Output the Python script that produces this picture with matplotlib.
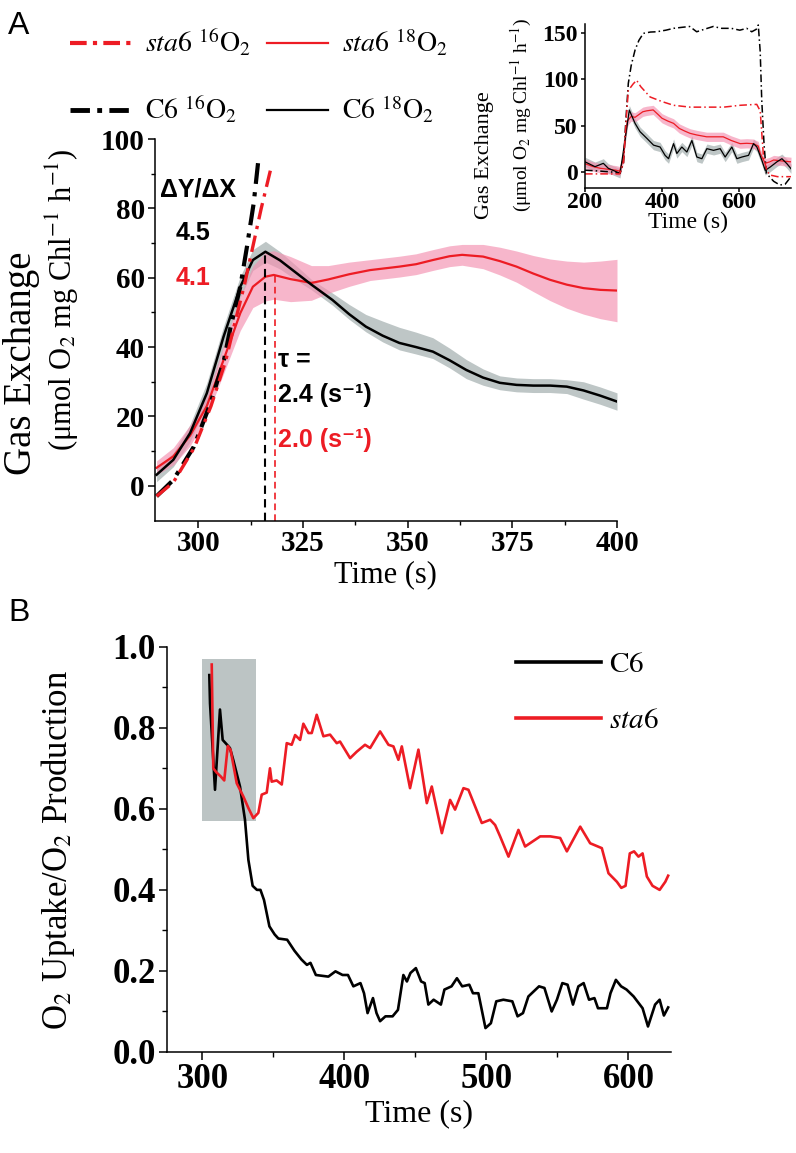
import matplotlib
matplotlib.use("Agg")
import matplotlib.pyplot as plt
import numpy as np
from matplotlib.lines import Line2D
from matplotlib.ticker import MultipleLocator, FormatStrFormatter

# ---- panel A, main plot (290-400 s) ----
c6_18_t = [290, 294, 298, 302, 306, 310, 313, 316, 319.5, 324, 327, 332, 336, 340, 344, 348, 352, 356, 360, 364, 368, 372,
           376, 380, 384, 388, 392, 396, 400]
c6_18_y = [3.2, 7.5, 15.2, 26.7, 43, 57.4, 65.1, 67.5, 65, 60.8, 58, 53.6, 49.5, 45.9, 43.3, 41.2, 40, 38.7, 36.2, 33.4, 31.2,
           29.7, 29.1, 28.9, 28.9, 28.6, 27.5, 26, 24.3]
c6_18_lo = [2, 2, 2.5, 3, 3, 3, 3, 3, 2.5, 2, 1.5, 1.5, 1.5, 1.5, 1.8, 2, 2, 2, 2.2, 2.5, 2.2, 2, 2, 2, 2, 2, 2.5, 2.5, 2.5]
c6_18_hi = [2, 2, 2.5, 3, 3, 3, 3, 3, 2.5, 2, 1.5, 2, 2.8, 3.5, 4.2, 4.5, 4.3, 4, 3.5, 3, 2.5, 2, 2, 2, 2, 2, 2.5, 2.5, 2.5]

sta6_18_t = [290, 294, 298, 302, 306, 310, 313, 316, 318, 322, 327, 331, 336, 341, 348, 352, 356, 360, 363, 368, 372, 376,
             380, 384, 388, 392, 396, 400]
sta6_18_y = [5.2, 8.5, 14.5, 23, 36.3, 49.8, 57.4, 60.3, 60.8, 59.6, 58.5, 59.5, 61, 62.2, 63.2, 63.9, 65.1, 66.2, 66.6,
             66.1, 64.8, 63.2, 61.2, 59.4, 58, 57, 56.5, 56.3]
sta6_18_ci = [2, 2.5, 3, 3, 4, 5, 6, 7, 7, 6.5, 5, 4, 3.5, 3, 3, 3, 3, 3, 3, 3.5, 4, 4.5, 5.2, 6, 6.8, 7.5, 8.3, 9]

c6_16_t = [290, 294, 298.9, 302.9, 306.1, 307.7, 310, 311.6, 313.2, 314.4]
c6_16_y = [-3, 1.7, 11.3, 23.9, 36.3, 45.9, 57.4, 69, 81.5, 94.9]
sta6_16_t = [290, 294, 299, 303, 306.5, 308.5, 311, 313, 315, 317.2]
sta6_16_y = [-3, 1, 11, 23, 36, 46, 58, 69, 80, 91]

c6_peak = (315.8, 67.5)
sta6_peak = (318.4, 60.6)

# ---- panel A, inset (200-735 s) ----
in_c6_16_t = [200, 240, 270, 291, 300, 306, 312.5, 320, 330, 340, 351.5, 370, 386, 410, 430, 450, 472, 490, 510, 533, 555, 580, 602, 620, 633, 645, 650, 655, 659, 665, 671, 690, 706, 720, 735]
in_c6_16_y = [2, 1, 0, -1.4, 10, 55, 95.7, 115, 131.6, 142, 149.6, 151, 151.3, 153, 155, 156, 157, 151.3, 154, 157, 155, 155, 153, 155, 151.3, 154, 158.6, 130, 77.7, 30, -1.4, -10, -14, -13, -5]
in_sta6_16_t = [200, 250, 290, 300, 306, 312.5, 325, 334, 345, 369, 400, 430, 473, 520, 560, 603, 646, 655, 663.5, 672, 680, 700, 737]
in_sta6_16_y = [-2, -2, -2, 10, 50, 88, 95, 99, 92, 81, 76, 72, 70, 70, 70, 72, 73, 66, 16.5, 2, -3.2, -5, -5]
in_sta6_18_t = [200, 220, 240, 260, 280, 290, 300, 305, 310, 320, 330, 340, 350, 360, 377, 390, 400, 415, 430, 445, 460, 473, 490, 516, 540, 559, 580, 603, 620, 637, 650, 655, 668, 680, 690, 710, 735]
in_sta6_18_y = [9, 6, 4, 3, 2, 1, 15, 40, 55, 60, 59, 62, 65, 66, 67, 62, 58, 55, 52.5, 47, 44, 41.7, 40, 38, 38, 38, 34, 30.6, 31, 30.6, 28, 20, 9.4, 11, 13, 12, 11]
in_c6_18_t = [200, 226, 247.6, 260.6, 291, 304, 315, 330, 343, 360.7, 378, 395, 408, 417, 430, 438.5, 451.5, 464.6, 477.6, 490.5, 503.5, 516.5, 533.8, 551, 564, 581.4, 594.4, 607.4, 624.7, 637.7, 646.4, 659.4, 668, 681, 698.4, 711.4, 724.4, 735]
in_c6_18_y = [11, 5.8, 9.4, 4, -1.4, 34.5, 66.9, 52.5, 43.5, 36.3, 29, 27, 18, 14.4, 30.6, 20, 27, 21.6, 34, 16.2, 14.4, 25.2, 23.4, 25.2, 16.2, 27, 14.4, 16.2, 18, 30.6, 27, 12.6, 1.8, 5.4, 11, 14.4, 9, 3.6]

# ---- panel B ----
b_c6_t = [305, 305.5, 309, 312.5, 314.4, 317, 319.5, 321.9, 326.6, 330.1, 332.5, 335.5, 338.5, 341, 343.5, 347.3, 351, 353.6, 359.8,
          364.9, 369.9, 373.7, 376.2, 380, 388.8, 393.8, 398.8, 402.6, 406.4, 411.4, 413.9, 416.4, 420.2, 422.7, 425.2, 429, 434,
          437.8, 441.6, 444.1, 446.6, 450.4, 454.1, 456.6, 459.2, 462.9, 468, 470.5, 475.5, 479.3, 483, 488, 490.6, 494.4, 499.4,
          503.2, 507, 512, 518.3, 522, 525.8, 529.6, 537.1, 540.9, 546, 549.7, 553.5, 557.2, 561, 564.8, 568.5, 572.3, 576.1,
          578.6, 584.9, 587.4, 591.2, 594.9, 598.7, 603.7, 610, 613.8, 618.8, 622, 625, 628]
b_c6_y = [0.93, 0.86, 0.647, 0.845, 0.77, 0.76, 0.75, 0.72, 0.655, 0.573, 0.474, 0.41, 0.40, 0.40, 0.375, 0.31, 0.29, 0.28, 0.277,
          0.25, 0.228, 0.215, 0.22, 0.19, 0.186, 0.199, 0.19, 0.19, 0.162, 0.17, 0.145, 0.096, 0.133, 0.096, 0.076, 0.088, 0.088,
          0.104, 0.19, 0.174, 0.195, 0.207, 0.174, 0.17, 0.117, 0.129, 0.117, 0.154, 0.162, 0.182, 0.162, 0.166, 0.145, 0.145, 0.059,
          0.071, 0.125, 0.129, 0.125, 0.088, 0.096, 0.137, 0.162, 0.158, 0.1, 0.129, 0.17, 0.166, 0.117, 0.162, 0.17, 0.129, 0.133,
          0.108, 0.108, 0.145, 0.178, 0.162, 0.154, 0.137, 0.108, 0.063, 0.117, 0.129, 0.09, 0.11]
b_sta6_t = [306.7, 307.8, 310, 313, 315.5, 318, 320, 324.3, 329, 332.5, 336, 339.5, 341.9, 345.4, 347.7, 348.9, 352.4, 356, 359.5,
            363, 365.4, 368.9, 371.2, 374.8, 377.1, 380.6, 385.3, 390, 394.7, 397, 404.1, 408.8, 414.6, 418.2, 425.2, 431.1, 434.6,
            438.1, 440.5, 446.3, 452.2, 458.1, 461.6, 468.7, 474.5, 478, 483.9, 487.4, 492.1, 496.8, 502.7, 506.2, 509.7, 515.6,
            522.6, 527.3, 537.9, 545, 552, 556.7, 566.1, 573.1, 581.3, 586, 591.9, 595, 598, 601, 604, 607.1, 610, 613, 617, 622, 626, 628]
b_sta6_y = [0.956, 0.70, 0.69, 0.68, 0.67, 0.755, 0.745, 0.663, 0.63, 0.602, 0.577, 0.59, 0.635, 0.64, 0.70, 0.667, 0.67, 0.66, 0.762,
            0.758, 0.782, 0.77, 0.81, 0.787, 0.787, 0.832, 0.779, 0.783, 0.762, 0.766, 0.725, 0.741, 0.758, 0.75, 0.791, 0.758, 0.754,
            0.721, 0.754, 0.651, 0.746, 0.614, 0.655, 0.54, 0.622, 0.598, 0.651, 0.647, 0.606, 0.565, 0.573, 0.56, 0.532, 0.482,
            0.548, 0.507, 0.532, 0.532, 0.528, 0.495, 0.556, 0.515, 0.503, 0.441, 0.42, 0.405, 0.41, 0.49, 0.495, 0.482, 0.49, 0.433,
            0.41, 0.40, 0.42, 0.435]
box_t = (300, 338)
box_y = (0.57, 0.97)

RED = "#ed1c24"
PINK = "#f48fb0"
GREY = "#a8b3b3"

plt.rcParams["font.family"] = "Liberation Serif"
plt.rcParams["mathtext.fontset"] = "stix"

W, H = 796, 1153
fig = plt.figure(figsize=(W / 100, H / 100), dpi=100)


def px_axes(l, t, r, b):
    return fig.add_axes([l / W, 1 - b / H, (r - l) / W, (b - t) / H])


def style(ax, size, major_len, minor_len):
    for s in ("top", "right"):
        ax.spines[s].set_visible(False)
    for s in ("left", "bottom"):
        ax.spines[s].set_linewidth(1.1)
    ax.tick_params(which="major", direction="out", length=major_len, width=1.1, labelsize=size, pad=2)
    ax.tick_params(which="minor", direction="out", length=minor_len, width=1.0)
    for lab in ax.get_xticklabels() + ax.get_yticklabels():
        lab.set_fontweight("bold")


def arr(a):
    return np.asarray(a, dtype=float)


# ---------- panel A main ----------
ax = px_axes(154.5, 139, 617, 520.5)
ax.fill_between(c6_18_t, arr(c6_18_y) - arr(c6_18_lo), arr(c6_18_y) + arr(c6_18_hi), color=GREY, alpha=0.75, lw=0)
ax.fill_between(sta6_18_t, arr(sta6_18_y) - arr(sta6_18_ci), arr(sta6_18_y) + arr(sta6_18_ci), color=PINK, alpha=0.65, lw=0)
ax.plot(sta6_18_t, sta6_18_y, color=RED, lw=1.6)
ax.plot(c6_18_t, c6_18_y, color="black", lw=1.8)
ax.plot(c6_16_t, c6_16_y, color="black", lw=3, ls=(0, (5, 2, 1, 2)))
ax.plot(sta6_16_t, sta6_16_y, color=RED, lw=2.4, ls=(0, (5, 2, 1, 2)))
ax.plot([c6_peak[0]] * 2, [-10, c6_peak[1]], color="black", lw=1.5, ls=(0, (4, 2.5)))
ax.plot([sta6_peak[0]] * 2, [-10, sta6_peak[1]], color=RED, lw=1.2, ls=(0, (4, 2.5)))
ax.set_xlim(289.5, 400)
ax.set_ylim(-10, 100)
ax.xaxis.set_major_locator(MultipleLocator(25))
ax.xaxis.set_minor_locator(MultipleLocator(12.5))
ax.set_yticks([0, 20, 40, 60, 80, 100])
ax.set_yticks([10, 30, 50, 70, 90], minor=True)
style(ax, 21, 5, 3)
ax.set_xlabel("Time (s)", fontsize=22, labelpad=2)

sans = dict(family=["Liberation Sans", "DejaVu Sans"], fontweight="bold", fontsize=18)
ax.text(290.9, 85.3, "\u0394Y/\u0394X", color="black", va="center", **sans)
ax.text(294.5, 72.9, "4.5", color="black", va="center", **sans)
ax.text(294.5, 60, "4.1", color=RED, va="center", **sans)
ax.text(319.0, 36.3, "\u03c4 =", color="black", va="center", **sans)
ax.text(319.0, 26.2, "2.4 (s\u207b\u00b9)", color="black", va="center", **sans)
ax.text(319.0, 13.3, "2.0 (s\u207b\u00b9)", color=RED, va="center", **sans)

fig.text(22 / W, 1 - 363 / H, "Gas Exchange", rotation=90, fontsize=28, ha="center", va="center")
fig.text(62 / W, 1 - 300 / H, r"(μmol O$_2$ mg Chl$^{-1}$ h$^{-1}$)", rotation=90, fontsize=22,
         ha="center", va="center")

handles = [
    Line2D([], [], color=RED, lw=3, ls=(0, (4, 1.5, 1, 1.5))),
    Line2D([], [], color="black", lw=3.5, ls=(0, (4, 1.5, 1, 1.5))),
    Line2D([], [], color=RED, lw=1.6),
    Line2D([], [], color="black", lw=1.6),
]
labels = [r"$\mathit{sta6}\ ^{16}\mathrm{O}_2$", r"$\mathrm{C6}\ ^{16}\mathrm{O}_2$",
          r"$\mathit{sta6}\ ^{18}\mathrm{O}_2$", r"$\mathrm{C6}\ ^{18}\mathrm{O}_2$"]
fig.legend(handles, labels, loc="upper left", bbox_to_anchor=(70 / W, 1 - 27 / H), ncol=2, frameon=False,
           fontsize=20, handlelength=2.2, handletextpad=0.5, columnspacing=0.6, labelspacing=1.3,
           borderpad=0, borderaxespad=0)

# ---------- panel A inset ----------
ai = px_axes(585, 23.7, 791, 187.8)
ai.fill_between(in_c6_18_t, arr(in_c6_18_y) - 5, arr(in_c6_18_y) + 5, color=GREY, alpha=0.75, lw=0)
ai.fill_between(in_sta6_18_t, arr(in_sta6_18_y) - 5, arr(in_sta6_18_y) + 5, color=PINK, alpha=0.65, lw=0)
ai.plot(in_sta6_18_t, in_sta6_18_y, color=RED, lw=0.9)
ai.plot(in_c6_18_t, in_c6_18_y, color="black", lw=0.9)
ai.plot(in_c6_16_t, in_c6_16_y, color="black", lw=1.1, ls=(0, (5, 2, 1, 2)))
ai.plot(in_sta6_16_t, in_sta6_16_y, color=RED, lw=1.1, ls=(0, (5, 2, 1, 2)))
ai.set_xlim(200, 735)
ai.set_ylim(-17, 160)
ai.set_xticks([200, 400, 600])
ai.set_yticks([0, 50, 100, 150])
style(ai, 17, 3, 2)
ai.tick_params(axis="x", pad=0)
ai.set_xlabel("Time (s)", fontsize=17, labelpad=-1)
fig.text(485 / W, 1 - 155 / H, "Gas Exchange", rotation=90, fontsize=16, ha="center", va="center")
fig.text(521 / W, 1 - 115 / H, r"(μmol O$_2$ mg Chl$^{-1}$ h$^{-1}$)", rotation=90, fontsize=14,
         ha="center", va="center")

# ---------- panel B ----------
bx = px_axes(166.7, 646.7, 671, 1052)
bx.add_patch(plt.Rectangle((box_t[0], box_y[0]), box_t[1] - box_t[0], box_y[1] - box_y[0],
                           facecolor="#bcc4c4", edgecolor="none", zorder=0))
bx.plot(b_c6_t, b_c6_y, color="black", lw=1.9, label=r"$\mathrm{C6}$")
bx.plot(b_sta6_t, b_sta6_y, color=RED, lw=1.9, label=r"$\mathit{sta6}$")
bx.set_xlim(275, 630)
bx.set_ylim(0, 1.0)
bx.xaxis.set_major_locator(MultipleLocator(100))
bx.xaxis.set_minor_locator(MultipleLocator(50))
bx.yaxis.set_major_locator(MultipleLocator(0.2))
bx.yaxis.set_minor_locator(MultipleLocator(0.1))
bx.yaxis.set_major_formatter(FormatStrFormatter("%.1f"))
style(bx, 25, 6, 3.5)
bx.set_xlabel("Time (s)", fontsize=23, labelpad=2)
fig.text(58 / W, 1 - 850 / H, "O$_2$ Uptake/O$_2$ Production", rotation=90, fontsize=25,
         ha="center", va="center")
bx.legend(loc="upper left", bbox_to_anchor=(516 / W, 1 - 652 / H), bbox_transform=fig.transFigure,
          frameon=False, fontsize=21, handlelength=2.9, handletextpad=0.3, labelspacing=1.0,
          borderpad=0, borderaxespad=0)
for ln in bx.get_legend().get_lines():
    ln.set_linewidth(2.6)

fig.text(8 / W, 1 - 26 / H, "A", family="Liberation Sans", fontsize=23, va="center")
fig.text(8 / W, 1 - 613 / H, "B", family="Liberation Sans", fontsize=23, va="center")

fig.savefig("out.png", dpi=100)
